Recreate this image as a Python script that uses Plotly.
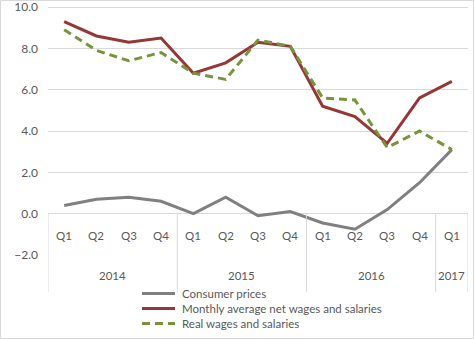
import plotly.graph_objects as go

# Quarterly year-on-year changes, %
quarters = ["Q1", "Q2", "Q3", "Q4", "Q1", "Q2", "Q3", "Q4", "Q1", "Q2", "Q3", "Q4", "Q1"]
years = ["2014", "2015", "2016", "2017"]
year_spans = [4, 4, 4, 1]

consumer_prices = [0.4, 0.7, 0.8, 0.6, 0.0, 0.8, -0.1, 0.1, -0.45, -0.75, 0.2, 1.5, 3.1]
net_wages = [9.3, 8.6, 8.3, 8.5, 6.8, 7.3, 8.3, 8.1, 5.2, 4.7, 3.4, 5.6, 6.4]
real_wages = [8.9, 7.9, 7.4, 7.8, 6.8, 6.5, 8.4, 8.1, 5.6, 5.5, 3.2, 4.0, 3.1]

series_names = ["Consumer prices", "Monthly average net wages and salaries",
                "Real wages and salaries"]
series_values = [consumer_prices, net_wages, real_wages]
series_lines = [dict(color="#808080", width=3),
                dict(color="#953735", width=3),
                dict(color="#77933c", width=3, dash="8px,5px")]

W, H = 474, 339
M_L, M_R, M_T, M_B = 48, 6, 5, 84
PW, PH = W - M_L - M_R, H - M_T - M_B
Y_MIN, Y_MAX = -2, 10.1

TEXT = "#595959"
GRID = "#d9d9d9"
FONT = "Lato"
FS = 11.5

xs = list(range(len(quarters)))

fig = go.Figure()
for name, vals, line in zip(series_names, series_values, series_lines):
    fig.add_trace(go.Scatter(x=xs, y=vals, mode="lines", name=name, line=line,
                             showlegend=False))


def yp(v):
    """Data value on the y axis -> paper fraction (also valid below the range)."""
    return (v - Y_MIN) / (Y_MAX - Y_MIN)


def px(p):
    return (p - M_L) / PW


def py(p):
    return (H - M_B - p) / PH


shapes = []
annotations = []

# Quarter labels in the first row under the zero axis
for i, q in enumerate(quarters):
    annotations.append(dict(x=i, y=yp(-1.48), xref="x", yref="paper", text=q, showarrow=False,
                            font=dict(family=FONT, size=FS, color=TEXT)))

# Year labels and group separators
start = 0
bounds = [-0.5]
for yr, n in zip(years, year_spans):
    center = start + (n - 1) / 2
    annotations.append(dict(x=center, y=yp(-3.42), xref="x", yref="paper", text=yr,
                            showarrow=False, font=dict(family=FONT, size=FS, color=TEXT)))
    start += n
    bounds.append(start - 0.5)
for b in bounds:
    shapes.append(dict(type="line", xref="x", yref="paper", x0=b, x1=b, y0=yp(0), y1=yp(-3.8),
                       line=dict(color=GRID, width=1)))

# Legend: a short line sample and the series name on each row
for k, (name, line) in enumerate(zip(series_names, series_lines)):
    row_y = 293.5 + 15 * k
    shapes.append(dict(type="line", xref="paper", yref="paper",
                       x0=px(142), x1=px(175), y0=py(row_y), y1=py(row_y), line=line))
    annotations.append(dict(x=px(180), y=py(row_y), xref="paper", yref="paper", text=name,
                            showarrow=False, xanchor="left", yanchor="middle",
                            font=dict(family=FONT, size=FS, color=TEXT)))

# Outer chart border
shapes.append(dict(type="rect", xref="paper", yref="paper",
                   x0=px(0.5), x1=px(W - 0.5), y0=py(H - 0.5), y1=py(0.5),
                   line=dict(color=GRID, width=1), layer="below"))

fig.update_layout(
    width=W, height=H,
    margin=dict(l=M_L, r=M_R, t=M_T, b=M_B, autoexpand=False),
    paper_bgcolor="white", plot_bgcolor="white",
    font=dict(family=FONT, size=FS, color=TEXT),
    showlegend=False,
    shapes=shapes,
    annotations=annotations,
)
fig.update_xaxes(range=[-0.5, 12.5], showticklabels=False, showgrid=False, zeroline=False,
                 showline=False, ticks="")
fig.update_yaxes(range=[Y_MIN, Y_MAX], tickvals=[-2, 0, 2, 4, 6, 8, 10], tickformat=".1f",
                 showgrid=True, gridcolor=GRID, gridwidth=1, zeroline=True, zerolinecolor=GRID,
                 zerolinewidth=1, showline=False, ticks="", ticklabelstandoff=9,
                 ticklabeloverflow="allow",
                 tickfont=dict(family=FONT, size=12, color=TEXT))

fig.write_html("out.html")
